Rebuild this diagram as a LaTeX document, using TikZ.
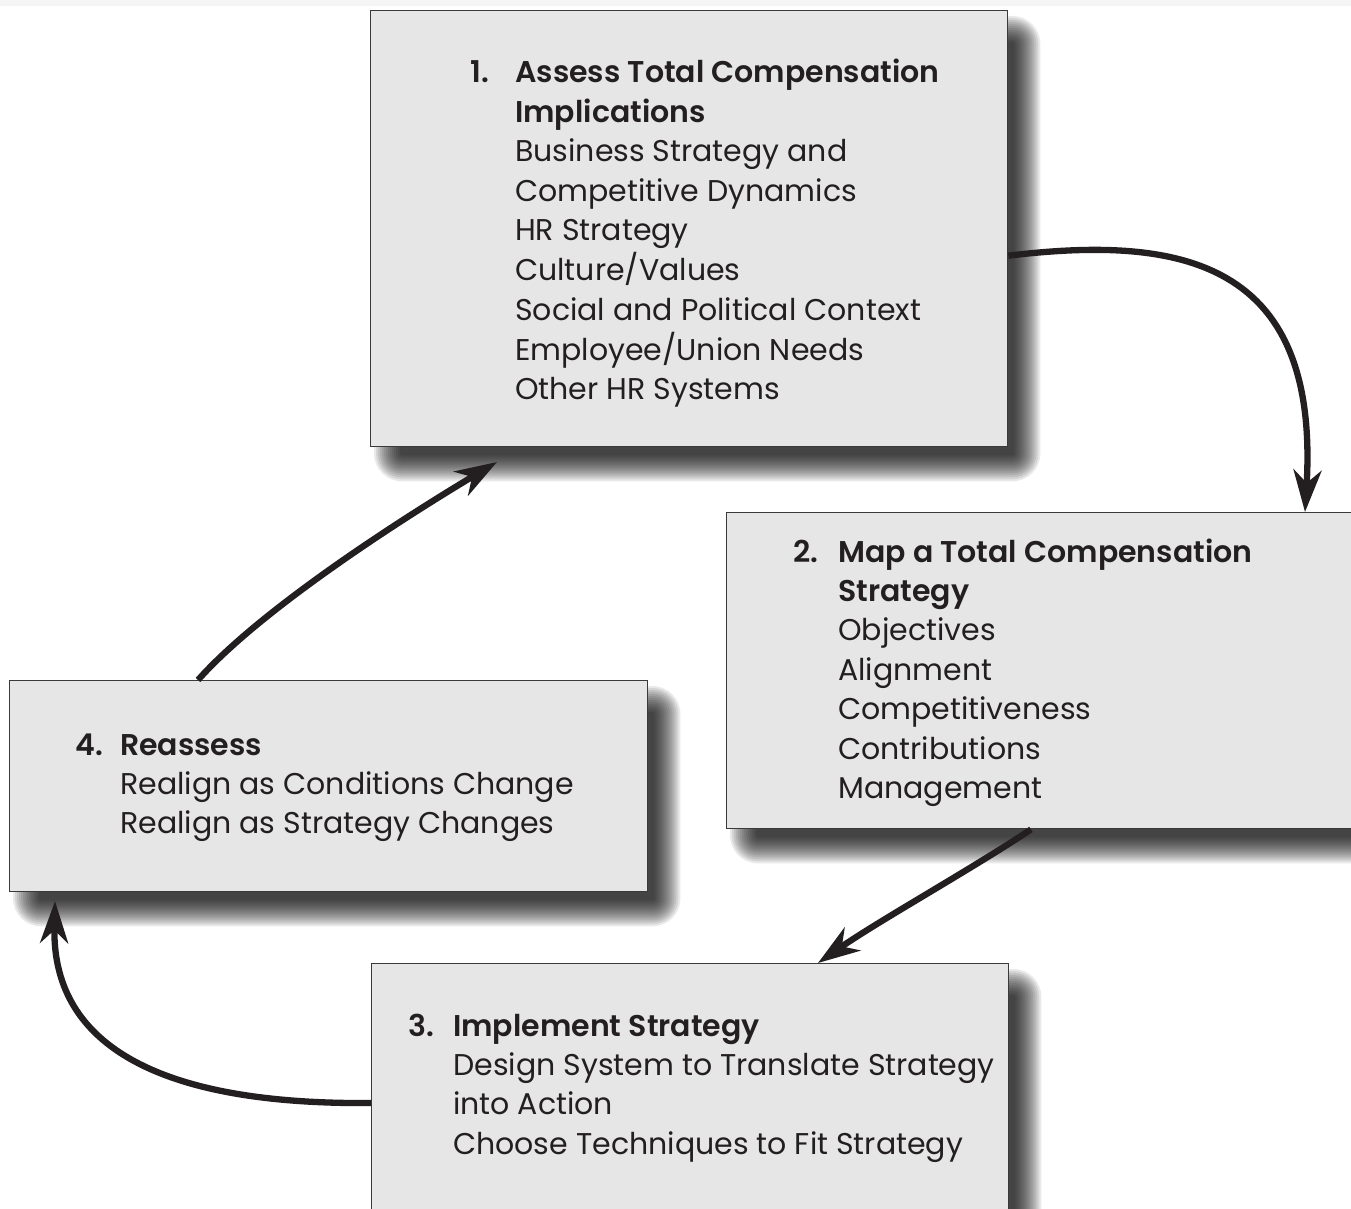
\documentclass[tikz,border=0pt]{standalone}
\usepackage{fontspec}
\setmainfont{Poppins}[BoldFont={Poppins SemiBold}]
\usetikzlibrary{arrows.meta}
\definecolor{boxfill}{HTML}{E6E6E7}
\definecolor{boxline}{HTML}{3A3A3A}
\definecolor{ink}{HTML}{231F20}
\newcommand{\stepnum}[1]{\makebox[45pt][l]{\bfseries #1}}
\newcommand{\indt}{\hspace*{45pt}}
\pgfdeclarelayer{background}
\pgfsetlayers{background,main}
\tikzset{
  stepbox/.style={draw=boxline, line width=1.4pt, fill=boxfill, anchor=north west, inner sep=0pt},
  steptext/.style={anchor=base west, inner sep=0pt, text=ink, font=\fontsize{30}{39.4}\selectfont},
  flow/.style={draw=ink, line width=6.3pt, -{Stealth[length=42pt,width=28pt,inset=13pt]}},
  shadowlayer/.style={fill=black, fill opacity=0.085, draw=none}
}
\newcommand{\boxshadow}[1]{%
  \foreach \e in {-12,-10,...,14}{
    \fill[shadowlayer, rounded corners={(\e+14)*1pt}]
      ([shift={(18-\e,20-\e)}]#1.north west) rectangle ([shift={(18+\e,20+\e)}]#1.south east);
  }}
\begin{document}
\begin{tikzpicture}[x=1pt,y=-1pt]
\useasboundingbox (0,0) rectangle (1351,1209);
\clip (0,0) rectangle (1351,1209);
% boxes
\node[stepbox, minimum width=637pt, minimum height=436pt] (b1) at (370,10) {};
\node[stepbox, minimum width=660pt, minimum height=316pt] (b2) at (726,512) {};
\node[stepbox, minimum width=638pt, minimum height=211pt] (b4) at (9,680) {};
\node[stepbox, minimum width=637pt, minimum height=300pt] (b3) at (371,963) {};
\begin{pgfonlayer}{background}
\fill[white] (0,0) rectangle (1351,1209);
\fill[black!4] (0,0) rectangle (1351,6);
\boxshadow{b1}
\boxshadow{b2}
\boxshadow{b4}
\boxshadow{b3}
\end{pgfonlayer}
% texts
\node[steptext] (t1) at (470,83) {\begin{tabular}[t]{@{}l@{}}
\stepnum{1.}\textbf{Assess Total Compensation}\\
\indt\textbf{Implications}\\
\indt Business Strategy and\\
\indt Competitive Dynamics\\
\indt HR Strategy\\
\indt Culture/Values\\
\indt Social and Political Context\\
\indt Employee/Union Needs\\
\indt Other HR Systems
\end{tabular}};
\node[steptext] (t2) at (793,562) {\begin{tabular}[t]{@{}l@{}}
\stepnum{2.}\textbf{Map a Total Compensation}\\
\indt\textbf{Strategy}\\
\indt Objectives\\
\indt Alignment\\
\indt Competitiveness\\
\indt Contributions\\
\indt Management
\end{tabular}};
\node[steptext] (t4) at (75,755) {\begin{tabular}[t]{@{}l@{}}
\stepnum{4.}\textbf{Reassess}\\
\indt Realign as Conditions Change\\
\indt Realign as Strategy Changes
\end{tabular}};
\node[steptext] (t3) at (408,1036) {\begin{tabular}[t]{@{}l@{}}
\stepnum{3.}\textbf{Implement Strategy}\\
\indt Design System to Translate Strategy\\
\indt into Action\\
\indt Choose Techniques to Fit Strategy
\end{tabular}};
% free ends
\coordinate (a3tip) at (55,901);
\coordinate (a4tip) at (497,462);
% connectors
\draw[flow] ([yshift=-27pt]b1.east) .. controls (1180,235) and (1320,260) .. ([xshift=579pt]b2.north west);
\draw[flow] ([xshift=305pt]b2.south west) .. controls (970,870) and (880,920) .. ([xshift=447pt]b3.north west);
\draw[flow] ([yshift=-140pt]b3.north west) .. controls (150,1105) and (52,1040) .. (a3tip);
\draw[flow] ([xshift=189pt]b4.north west) .. controls (260,610) and (400,520) .. (a4tip);
\end{tikzpicture}
\end{document}
